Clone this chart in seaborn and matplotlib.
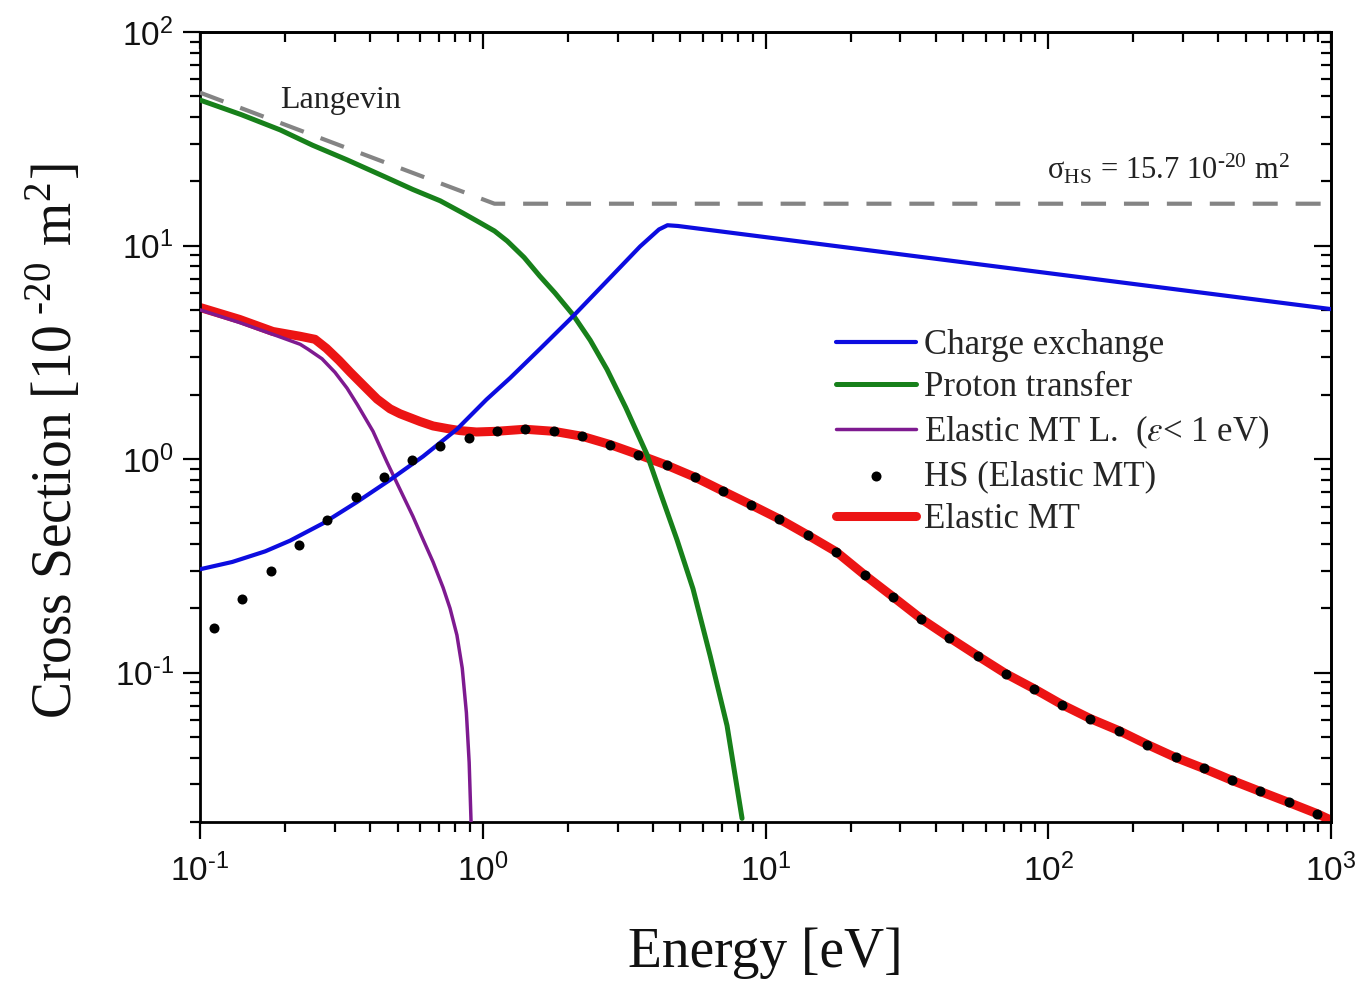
import matplotlib
matplotlib.use("Agg")
import numpy as np
import matplotlib.pyplot as plt
import seaborn as sns
from matplotlib.ticker import LogLocator, FuncFormatter, NullFormatter

sns.set_style("ticks")
plt.rcParams["font.family"] = ["Liberation Serif", "DejaVu Serif"]
plt.rcParams["mathtext.fontset"] = "stix"

# ---- data: energy [eV] and cross sections [1e-20 m^2] ----
langevin_E = [0.1, 1.1, 1000.0]
langevin_s = [52.0, 15.7, 15.7]

charge_E = [0.1, 0.13, 0.17, 0.208, 0.272, 0.359, 0.47, 0.615, 0.81, 1.03,
            1.25, 1.6, 2.08, 2.8, 3.6, 4.2, 4.5, 4.9, 1000.0]
charge_s = [0.305, 0.33, 0.37, 0.415, 0.50, 0.63, 0.80, 1.03, 1.38, 1.9,
            2.4, 3.3, 4.65, 7.0, 9.9, 11.9, 12.45, 12.35, 5.04]

proton_E = [0.1, 0.14, 0.192, 0.25, 0.331, 0.45, 0.566, 0.707, 0.85, 0.977,
            1.1, 1.22, 1.4, 1.59, 1.8, 2.08, 2.4, 2.75, 3.2, 3.6, 3.81,
            4.24, 4.86, 5.54, 6.37, 7.31, 8.26]
proton_s = [48.0, 41.0, 34.8, 29.5, 25.2, 21.0, 18.3, 16.2, 14.2, 12.8,
            11.7, 10.5, 8.8, 7.2, 6.0, 4.76, 3.6, 2.63, 1.75, 1.24, 1.05,
            0.70, 0.42, 0.247, 0.12, 0.0565, 0.0208]

langel_E = [0.1, 0.138, 0.181, 0.226, 0.241, 0.27, 0.30, 0.331, 0.36, 0.409,
            0.458, 0.50, 0.566, 0.615, 0.667, 0.724, 0.766, 0.81, 0.846,
            0.875, 0.895, 0.91]
langel_s = [5.0, 4.36, 3.84, 3.45, 3.27, 2.95, 2.55, 2.15, 1.8, 1.35,
            0.97, 0.76, 0.54, 0.42, 0.33, 0.25, 0.20, 0.15, 0.105,
            0.065, 0.038, 0.019]

hs_E = [0.112, 0.141, 0.178, 0.224, 0.282, 0.355, 0.447, 0.562, 0.708, 0.891,
        1.12, 1.41, 1.78, 2.24, 2.82, 3.55, 4.47, 5.62, 7.08, 8.91,
        11.2, 14.1, 17.8, 22.4, 28.2, 35.5, 44.7, 56.2, 70.8, 89.1,
        112, 141, 178, 224, 282, 355, 447, 562, 708, 891]
hs_s = [0.162, 0.222, 0.300, 0.397, 0.519, 0.664, 0.824, 0.989, 1.15, 1.25,
        1.35, 1.38, 1.35, 1.28, 1.17, 1.05, 0.937, 0.824, 0.708, 0.610,
        0.524, 0.441, 0.368, 0.287, 0.227, 0.179, 0.146, 0.120, 0.0989, 0.0841,
        0.0708, 0.0609, 0.0535, 0.0461, 0.0401, 0.0356, 0.0313, 0.0278, 0.0247, 0.0219]

elastic_E = [0.1, 0.138, 0.181, 0.226, 0.255, 0.28, 0.31, 0.34, 0.38, 0.423,
             0.47, 0.51, 0.60, 0.667, 0.75, 0.83, 0.95,
             1.12, 1.41, 1.78, 2.24, 2.82, 3.55, 4.47, 5.62, 7.08, 8.91,
             11.2, 14.1, 17.8, 22.4, 28.2, 35.5, 44.7, 56.2, 70.8, 89.1,
             112, 141, 178, 224, 282, 355, 447, 562, 708, 891, 1000]
elastic_s = [5.13, 4.51, 3.96, 3.76, 3.64, 3.3, 2.9, 2.55, 2.2, 1.91,
             1.72, 1.63, 1.50, 1.43, 1.39, 1.36, 1.34,
             1.35, 1.38, 1.35, 1.28, 1.17, 1.05, 0.937, 0.824, 0.708, 0.610,
             0.524, 0.441, 0.368, 0.287, 0.227, 0.179, 0.146, 0.120, 0.0989, 0.0841,
             0.0708, 0.0609, 0.0535, 0.0461, 0.0401, 0.0356, 0.0313, 0.0278, 0.0247,
             0.0219, 0.0204]

labels = ["Charge exchange", "Proton transfer",
          "Elastic MT L.  ($\\varepsilon$< 1 eV)", "HS (Elastic MT)", "Elastic MT"]

HY = "\u2010"  # short hyphen for exponents


def power_label(v, pos):
    e = int(round(np.log10(v)))
    return "$\\mathdefault{10^{%s}}$" % str(e).replace("-", HY)


# ---- figure ----
fig = plt.figure(figsize=(13.59, 9.81), dpi=100)
ax = fig.add_axes([0.1472, 0.1621, 0.8322, 0.8053])
ax.set_xscale("log")
ax.set_yscale("log")

line_kw = dict(ax=ax, estimator=None, sort=False)
sns.lineplot(x=elastic_E, y=elastic_s, color="#ec1414", linewidth=6.5,
             label=labels[4], zorder=2, **line_kw)
sns.lineplot(x=langel_E, y=langel_s, color="#7e1a90", linewidth=2.5,
             label=labels[2], zorder=3, **line_kw)
sns.lineplot(x=proton_E, y=proton_s, color="#17801a", linewidth=3.6,
             label=labels[1], zorder=4, **line_kw)
sns.lineplot(x=charge_E, y=charge_s, color="#0c0ce0", linewidth=3.0,
             label=labels[0], zorder=5, **line_kw)
sns.lineplot(x=langevin_E, y=langevin_s, color="#848484", linewidth=3.0,
             dashes=False, zorder=3, **line_kw)
ax.lines[-1].set_dashes((6, 4.3))
sns.scatterplot(x=hs_E, y=hs_s, ax=ax, color="black", s=52, linewidth=0,
                label=labels[3], zorder=6)

ax.set_xlim(0.1, 1000)
ax.set_ylim(0.02, 100)

# ---- ticks and spines ----
for sp in ax.spines.values():
    sp.set_linewidth(2.0)
    sp.set_color("black")
    sp.set_visible(True)

for axis in (ax.xaxis, ax.yaxis):
    axis.set_major_locator(LogLocator(base=10, numticks=20))
    axis.set_minor_locator(LogLocator(base=10, subs=range(2, 10), numticks=20))
    axis.set_major_formatter(FuncFormatter(power_label))
    axis.set_minor_formatter(NullFormatter())

ax.tick_params(which="both", direction="out", width=1.6, color="black",
               labelsize=24, labelfontfamily="Liberation Sans", labelcolor="#111111")
ax.tick_params(which="major", length=12)
ax.tick_params(axis="x", which="major", pad=11)
ax.tick_params(axis="y", which="major", pad=7)
ax.tick_params(which="minor", length=7)

top = ax.secondary_xaxis("top")
right = ax.secondary_yaxis("right")
for sec, axis in ((top, top.xaxis), (right, right.yaxis)):
    axis.set_major_locator(LogLocator(base=10, numticks=20))
    axis.set_minor_locator(LogLocator(base=10, subs=range(2, 10), numticks=20))
    axis.set_major_formatter(NullFormatter())
    axis.set_minor_formatter(NullFormatter())
    sec.tick_params(which="both", direction="in", width=1.6, color="black")
    sec.tick_params(which="major", length=12)
    sec.tick_params(which="minor", length=7)
    for sp in sec.spines.values():
        sp.set_linewidth(2.0)

ax.set_xlabel("Energy [eV]", fontsize=40, labelpad=28, color="#111111")
ax.set_ylabel("Cross Section [10$^{\\mathregular{\\ %s20}}$ m$^{\\mathregular{2}}$]" % HY,
              fontsize=40, color="#111111")
ax.yaxis.set_label_coords(-0.103, 0.482)

# ---- annotations ----
ax.text(0.0707, 0.913, "Langevin", transform=ax.transAxes, fontsize=23,
        va="center", ha="left", color="#222222")
ax.text(0.964, 0.8127,
        "σ$_{\\mathregular{HS}}$ = 15.7 10$^{\\mathregular{%s20}}$ m$^{\\mathregular{2}}$" % HY,
        transform=ax.transAxes, fontsize=22, va="baseline", ha="right", color="#222222")

# ---- legend ----
h, l = ax.get_legend_handles_labels()
lookup = dict(zip(l, h))
ax.legend([lookup[k] for k in labels], labels, loc="upper left",
          bbox_to_anchor=(0.562, 0.624), frameon=False, fontsize=25,
          handlelength=2.3, handletextpad=0.25, labelspacing=0.27,
          borderpad=0, borderaxespad=0)

fig.savefig("out.png", dpi=100)
